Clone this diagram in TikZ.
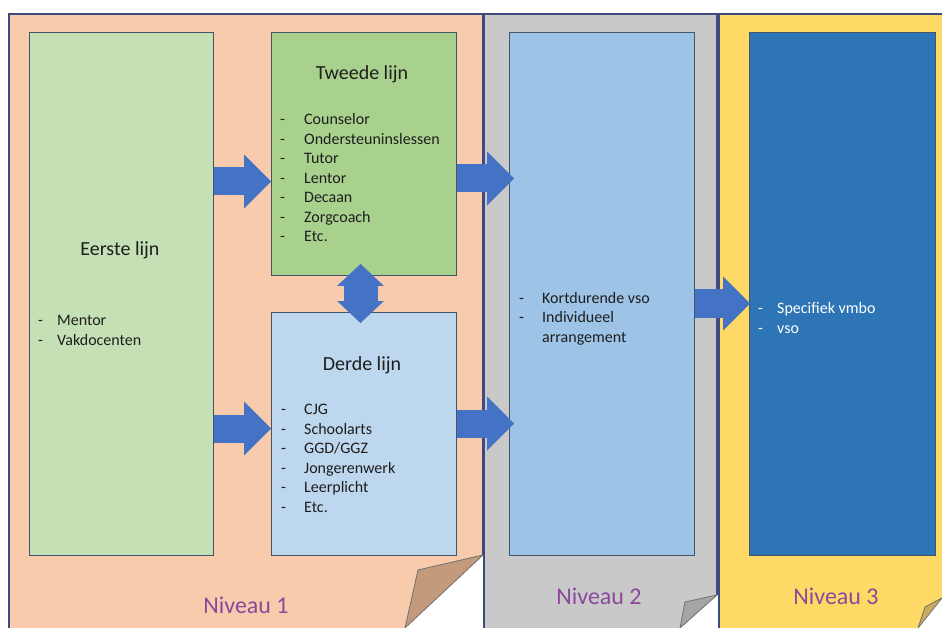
\documentclass[tikz,border=0pt]{standalone}
\usepackage{fontspec}
\setmainfont{Carlito}
\usetikzlibrary{arrows.meta}
\definecolor{peach}{HTML}{F8CBAD}
\definecolor{greypanel}{HTML}{C9C9C9}
\definecolor{goldpanel}{HTML}{FFD966}
\definecolor{panelline}{HTML}{3F4B7E}
\definecolor{boxline}{HTML}{44546A}
\definecolor{lightgreen}{HTML}{C5E0B4}
\definecolor{midgreen}{HTML}{A9D18E}
\definecolor{paleblue}{HTML}{BDD7EE}
\definecolor{midblue}{HTML}{9DC3E6}
\definecolor{darkblue}{HTML}{2E75B6}
\definecolor{arrowblue}{HTML}{4472C4}
\definecolor{foldtan}{HTML}{C49A7C}
\definecolor{foldgrey}{HTML}{A5A5A5}
\definecolor{foldgold}{HTML}{C9AD5F}
\definecolor{foldline}{HTML}{707070}
\definecolor{darktext}{HTML}{1E1E1E}
\definecolor{levelpurple}{HTML}{8A4A9C}
\newcommand{\dashitem}[2][23pt]{\makebox[#1][l]{-}#2}
\begin{document}
\begin{tikzpicture}[x=1pt,y=-1pt,
		box/.style={draw=boxline,line width=1pt,anchor=north west,inner sep=0pt},
		title/.style={font=\fontsize{20}{24}\selectfont,anchor=base,text=darktext},
		items/.style={font=\fontsize{16}{19.5}\selectfont,align=left,anchor=base west,inner sep=0pt,text=darktext},
		level/.style={font=\fontsize{24}{28}\selectfont,anchor=base,text=levelpurple},
		border/.style={color=panelline,line width=2.5pt},
		fold/.style={draw=foldline,line width=0.8pt,line join=round},
		blockarrow/.style={line width=28pt,color=arrowblue,-{Triangle[length=27pt,width=54pt,line width=0pt]}},
		dblarrow/.style={line width=34pt,color=arrowblue,<->,>={Triangle[length=22pt,width=47pt,line width=0pt]}}]
		\useasboundingbox (0,0) rectangle (942,628);
		\fill[color=white] (0,0) rectangle (942,628);
		% niveau 1
		\fill[color=peach] (9,628) -- (9,14) -- (483,14) -- (483,555) -- (405,628) -- cycle;
		\draw[border] (9,628) -- (9,14) -- (483,14) -- (483,555);
		\filldraw[fold,fill=foldtan] (483,555) -- (418,570) -- (405,628) -- cycle;
		% niveau 2
		\fill[color=greypanel] (484,628) -- (484,14) -- (717,14) -- (717,595) -- (680,628) -- cycle;
		\draw[border] (484,628) -- (484,14) -- (717,14) -- (717,595);
		\filldraw[fold,fill=foldgrey] (717,595) -- (685,602) -- (680,628) -- cycle;
		% niveau 3
		\fill[color=goldpanel] (719,628) -- (719,14) -- (942,14) -- (942,598) -- (918,628) -- cycle;
		\draw[border] (719,628) -- (719,14) -- (942,14);
		\filldraw[fold,fill=foldgold] (942,598) -- (925,607) -- (918,628) -- cycle;

		\node[box,fill=lightgreen,minimum width=184pt,minimum height=523pt] (eerste) at (29,32) {};
		\node[box,fill=midgreen,minimum width=185pt,minimum height=243pt] (tweede) at (271,32) {};
		\node[box,fill=paleblue,minimum width=185pt,minimum height=243pt] (derde) at (271,312) {};
		\node[box,fill=midblue,minimum width=185pt,minimum height=523pt] (kort) at (509,32) {};
		\node[box,fill=darkblue,minimum width=186pt,minimum height=523pt] (spec) at (749,32) {};

		% base = laatste regel
		\node[title] (eerstetitle) at (120,256) {Eerste lijn};
		\node[items] (eerstelist) at (38,345) {\dashitem[19pt]{Mentor}\\ \dashitem[19pt]{Vakdocenten}};
		\node[title] (tweedetitle) at (362,80) {Tweede lijn};
		\node[items] (tweedelist) at (280,242) {\dashitem[24pt]{Counselor}\\ \dashitem[24pt]{Ondersteuninslessen}\\ \dashitem[24pt]{Tutor}\\ \dashitem[24pt]{Lentor}\\ \dashitem[24pt]{Decaan}\\ \dashitem[24pt]{Zorgcoach}\\ \dashitem[24pt]{Etc.}};
		\node[title] (derdetitle) at (362,370) {Derde lijn};
		\node[items] (derdelist) at (281,512) {\dashitem{CJG}\\ \dashitem{Schoolarts}\\ \dashitem{GGD/GGZ}\\ \dashitem{Jongerenwerk}\\ \dashitem{Leerplicht}\\ \dashitem{Etc.}};
		\node[items] (kortlist) at (519,342) {\dashitem{Kortdurende vso}\\ \dashitem{Individueel}\\ \makebox[23pt]{}arrangement};
		\node[items,text=white] (speclist) at (758,333) {\dashitem[19pt]{Specifiek vmbo}\\ \dashitem[19pt]{vso}};

		\node[level] (niveau1) at (246,613) {Niveau 1};
		\node[level] (niveau2) at (599,604) {Niveau 2};
		\node[level] (niveau3) at (836,604) {Niveau 3};

		% pijlen
		\coordinate (a1) at ([yshift=-27.5pt]tweede.west);
		\coordinate (a2) at ([yshift=5.5pt]derde.west);
		\coordinate (a3) at ([yshift=-24.5pt]tweede.east);
		\coordinate (a4) at ([yshift=10.5pt]derde.east);
		\coordinate (a5) at ([yshift=-9.5pt]kort.east);
		\coordinate (d1) at ([xshift=-3.5pt]tweede.south);
		\draw[blockarrow] (a1 -| eerste.east) -- (a1);
		\draw[blockarrow] (a2 -| eerste.east) -- (a2);
		\draw[blockarrow,shorten >=-5pt] (a3) -- (a3 -| kort.west);
		\draw[blockarrow,shorten >=-5pt] (a4) -- (a4 -| kort.west);
		\draw[blockarrow,shorten >=-1pt] (a5) -- (a5 -| spec.west);
		\draw[dblarrow,shorten <=-12pt,shorten >=-11pt] (d1) -- (d1 |- derde.north);
	\end{tikzpicture}
\end{document}
